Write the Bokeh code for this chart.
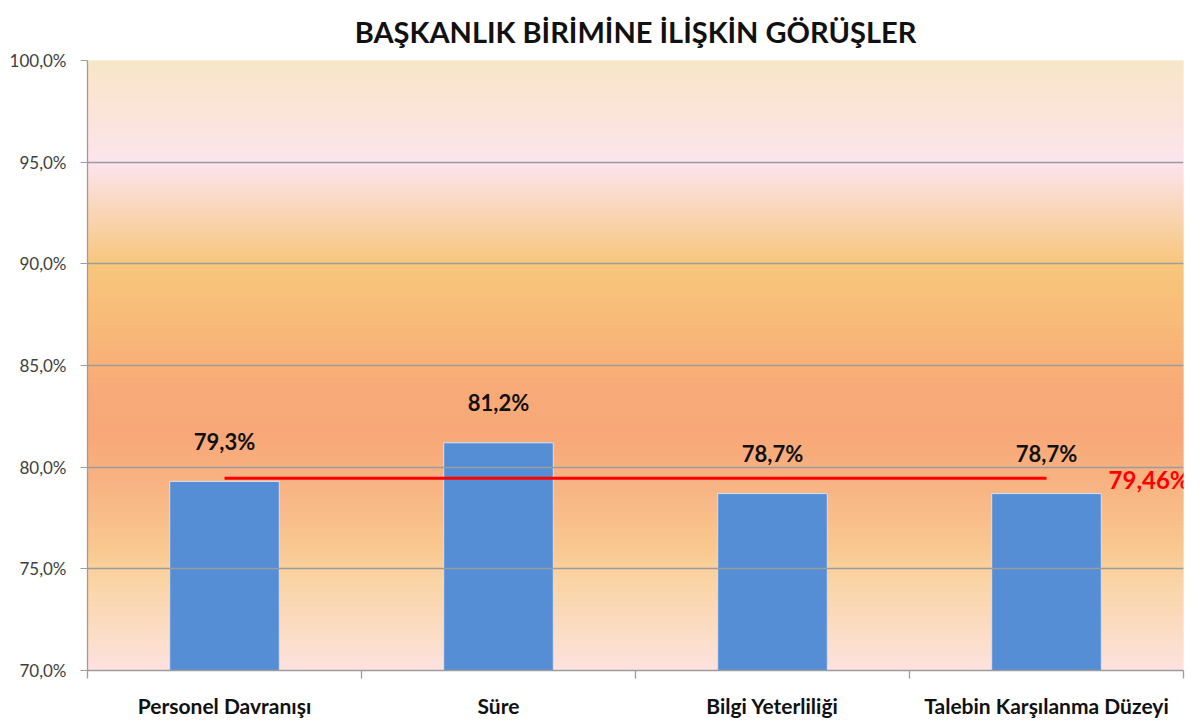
from bokeh.plotting import figure
from bokeh.models import (ColumnDataSource, Range1d, FixedTicker, LabelSet, Label)
from bokeh.core.properties import value
from bokeh.embed import file_html
from bokeh.resources import INLINE

# ---- data ----
categories = ["Personel Davranışı", "Süre", "Bilgi Yeterliliği", "Talebin Karşılanma Düzeyi"]
values = [79.3, 81.2, 78.7, 78.7]
value_labels = ["79,3%", "81,2%", "78,7%", "78,7%"]
average = 79.46
average_label = "79,46%"
y_ticks = [70, 75, 80, 85, 90, 95, 100]
y_tick_labels = ["70,0%", "75,0%", "80,0%", "85,0%", "90,0%", "95,0%", "100,0%"]
title_text = "BAŞKANLIK BİRİMİNE İLİŞKİN GÖRÜŞLER"

# ---- styling (background gradient stops: value -> colour) ----
grad_stops = [
    (70.0, (0xFD, 0xE2, 0xE0)),
    (72.0, (0xFB, 0xDC, 0xC4)),
    (74.5, (0xFA, 0xD4, 0xA4)),
    (76.0, (0xF9, 0xC8, 0x90)),
    (79.0, (0xF8, 0xB4, 0x84)),
    (81.5, (0xF8, 0xA8, 0x78)),
    (84.0, (0xF8, 0xAA, 0x78)),
    (87.0, (0xF8, 0xBA, 0x78)),
    (90.0, (0xF8, 0xC6, 0x7C)),
    (91.6, (0xF8, 0xD0, 0xA0)),
    (95.0, (0xFC, 0xE4, 0xEE)),
    (96.5, (0xFB, 0xE4, 0xE0)),
    (100.0, (0xF8, 0xE6, 0xC8)),
]


def grad_color(v):
    for (v0, c0), (v1, c1) in zip(grad_stops[:-1], grad_stops[1:]):
        if v0 <= v <= v1:
            t = (v - v0) / (v1 - v0)
            return "#%02x%02x%02x" % tuple(int(round(a + (b - a) * t)) for a, b in zip(c0, c1))
    return "#%02x%02x%02x" % grad_stops[-1][1]


n = len(categories)
centers = [i + 0.5 for i in range(n)]
y0, y1 = y_ticks[0], y_ticks[-1]

p = figure(width=1195, height=720, output_backend="svg", toolbar_location=None,
           x_range=Range1d(0, n), y_range=Range1d(y0, y1),
           min_border_left=87, min_border_right=12, min_border_top=60, min_border_bottom=48,
           title=title_text)
p.title.align = "center"
p.title.vertical_align = "middle"
p.title.text_font = "Lato"
p.title.text_font_style = "bold"
p.title.text_font_size = "29px"
p.title.text_color = "#111111"
p.title.standoff = 22
p.outline_line_color = None
p.background_fill_color = "white"
p.border_fill_color = "white"

# gradient background bands
steps = 150
band_b = [y0 + (y1 - y0) * i / steps for i in range(steps)]
band_t = [y0 + (y1 - y0) * (i + 1) / steps for i in range(steps)]
band_c = [grad_color((b + t) / 2) for b, t in zip(band_b, band_t)]
p.quad(left=0, right=n, bottom=band_b, top=band_t, fill_color=band_c, line_color=band_c, line_width=1)

# grid
p.xgrid.visible = False
p.ygrid.ticker = FixedTicker(ticks=y_ticks)
p.ygrid.grid_line_color = "#9C9C9C"
p.ygrid.grid_line_width = 1.3
p.ygrid.level = "glyph"

# bars
src = ColumnDataSource(dict(x=centers, top=values, lab=value_labels))
p.vbar(x="x", top="top", bottom=y0, width=0.4, source=src,
       fill_color="#558ED5", line_color="#D6E2F2", line_width=1)

# average line
p.line(x=[centers[0], centers[-1]], y=[average, average], line_color="#FF0000", line_width=3)

# value labels
p.add_layout(LabelSet(x="x", y="top", text="lab", source=src, y_offset=40,
                      text_align="center", text_baseline="middle",
                      text_font=value("Lato"), text_font_style="bold", text_font_size="22px",
                      text_color="#111111"))

p.add_layout(Label(x=n, y=average, text=average_label, text_align="right", text_baseline="middle",
                   x_offset=6, y_offset=-1, text_font="Lato", text_font_style="bold",
                   text_font_size="24px", text_color="#FF0000"))

# y axis
p.yaxis.ticker = FixedTicker(ticks=y_ticks)
p.yaxis.major_label_overrides = {t: l for t, l in zip(y_ticks, y_tick_labels)}
p.yaxis.axis_line_color = "#9C9C9C"
p.yaxis.axis_line_width = 1.3
p.yaxis.major_tick_line_color = "#9C9C9C"
p.yaxis.major_tick_out = 7
p.yaxis.major_tick_in = 0
p.yaxis.minor_tick_line_color = None
p.yaxis.major_label_standoff = 14
p.yaxis.major_label_text_font = "Lato"
p.yaxis.major_label_text_font_size = "17px"
p.yaxis.major_label_text_color = "#404040"

# x axis
p.xaxis.ticker = FixedTicker(ticks=centers, minor_ticks=list(range(n + 1)))
p.xaxis.major_label_overrides = {c: l for c, l in zip(centers, categories)}
p.xaxis.axis_line_color = "#9C9C9C"
p.xaxis.axis_line_width = 1.3
p.xaxis.major_tick_line_color = None
p.xaxis.major_tick_out = 0
p.xaxis.major_tick_in = 0
p.xaxis.minor_tick_line_color = "#9C9C9C"
p.xaxis.minor_tick_line_width = 1.3
p.xaxis.minor_tick_out = 8
p.xaxis.minor_tick_in = 0
p.xaxis.major_label_standoff = 14
p.xaxis.major_label_text_font = "Lato"
p.xaxis.major_label_text_font_style = "bold"
p.xaxis.major_label_text_font_size = "21px"
p.xaxis.major_label_text_color = "#111111"

open("out.html", "w").write(file_html(p, INLINE))
